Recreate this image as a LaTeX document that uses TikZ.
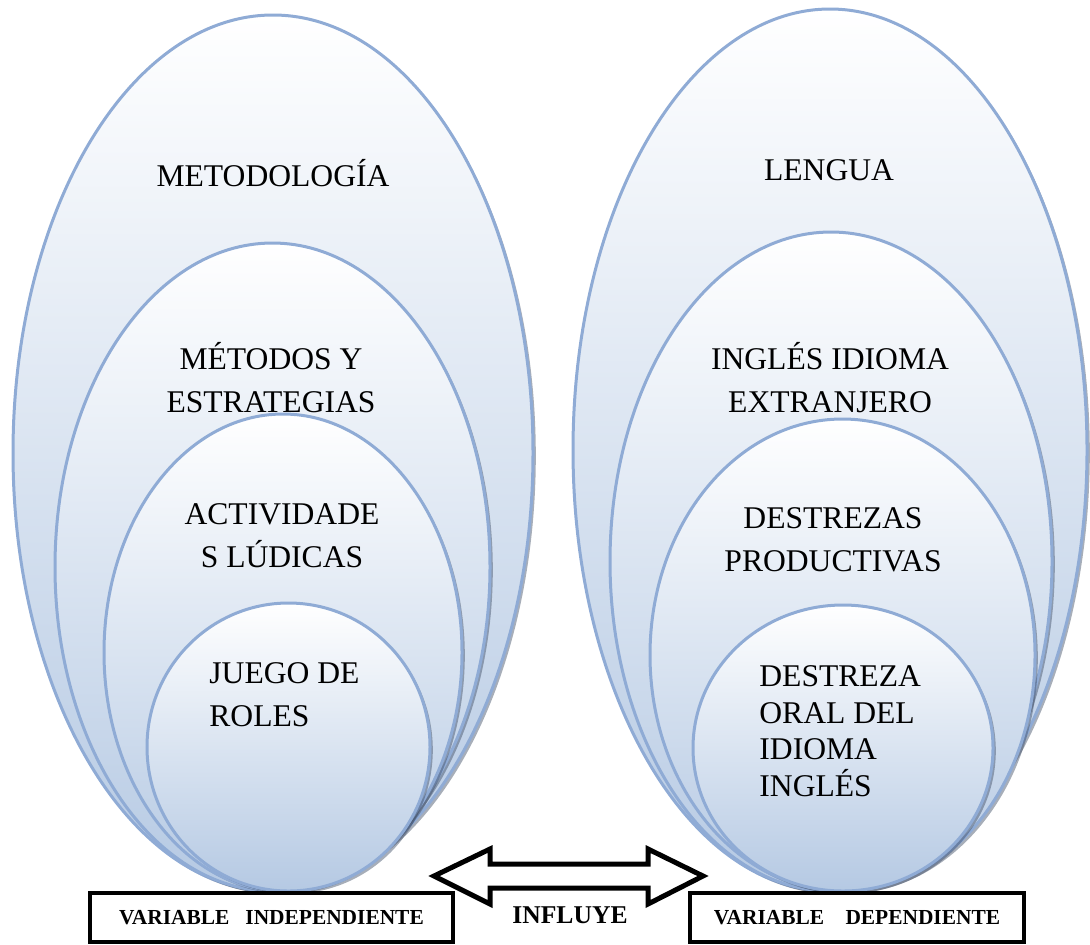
\documentclass[tikz,border=0pt]{standalone}
\usepackage{fontspec}
\setmainfont{Liberation Serif}
\usetikzlibrary{positioning,shapes.geometric,shadows}

\definecolor{ringline}{RGB}{143,171,213}
\definecolor{ringfill}{RGB}{181,201,227}
\definecolor{ringshade}{RGB}{60,75,100}

\begin{document}
\begin{tikzpicture}[x=0.5pt,y=-0.5pt,
    ring/.style={ellipse,draw=ringline,line width=1.5pt,inner sep=0pt,
      top color=white,bottom color=ringfill,
      drop shadow={shadow xshift=1.4pt,shadow yshift=-1.4pt,opacity=0.45,fill=ringshade}},
    word/.style={inner sep=0pt,font=\fontsize{15.8}{21.5}\selectfont},
    varbox/.style={draw,line width=2pt,inner sep=0pt,minimum height=24.5pt,
      font=\bfseries\fontsize{10.7}{12}\selectfont}]
  \useasboundingbox (0,0) rectangle (1090,944);
  % independiente
  \node[ring,minimum width=260pt,minimum height=438pt] (met) at (273,453) {};
  \node[ring,minimum width=217.5pt,minimum height=324pt] (metodos) at (272.5,567) {};
  \node[ring,minimum width=179pt,minimum height=238.5pt] (activ) at (283,652.5) {};
  \node[ring,minimum width=141.5pt,minimum height=144pt] (juego) at (288.5,747) {};
  \node[word,anchor=base] (tmet) at (273,186) {METODOLOGÍA};
  \node[word,anchor=base,align=center] (tmetodos) at (271,412) {MÉTODOS Y\\ESTRATEGIAS};
  \node[word,anchor=base,align=center] (tactiv) at (282,567) {ACTIVIDADE\\S LÚDICAS};
  \node[word,anchor=base west,align=left] (tjuego) at (209,726) {JUEGO DE\\ROLES};
  % dependiente
  \node[ring,minimum width=257pt,minimum height=441pt] (len) at (830,450) {};
  \node[ring,minimum width=221pt,minimum height=329.5pt] (ingles) at (831,561.5) {};
  \node[ring,minimum width=192.5pt,minimum height=236pt] (destr) at (842.5,655) {};
  \node[ring,minimum width=150pt,minimum height=143pt] (oral) at (843,748) {};
  \node[word,anchor=base] (tlen) at (829,180) {LENGUA};
  \node[word,anchor=base,align=center] (tingles) at (830,412) {INGLÉS IDIOMA\\EXTRANJERO};
  \node[word,anchor=base,align=center] (tdestr) at (833,571) {DESTREZAS\\PRODUCTIVAS};
  \node[word,anchor=base west,align=left,font=\fontsize{15.8}{18.2}\selectfont] (toral) at (759,796)
    {DESTREZA\\ORAL DEL\\IDIOMA\\INGLÉS};
  % variables
  \node[varbox,minimum width=181.5pt] (indep) at (271.5,917.5) {VARIABLE\ \ \ INDEPENDIENTE};
  \node[varbox,minimum width=167pt] (dep) at (857,917.5) {VARIABLE\ \ \ \ DEPENDIENTE};
  \node[anchor=base,inner sep=0pt,font=\bfseries\fontsize{12.8}{14}\selectfont] (influye) at (570,923) {INFLUYE};
  \draw[line width=2.5pt,fill=white] (434,876) -- (490,849) -- (490,864) -- (648,864)
    -- (648,849) -- (703,876) -- (648,904) -- (648,888) -- (490,888) -- (490,904) -- cycle;
\end{tikzpicture}
\end{document}
